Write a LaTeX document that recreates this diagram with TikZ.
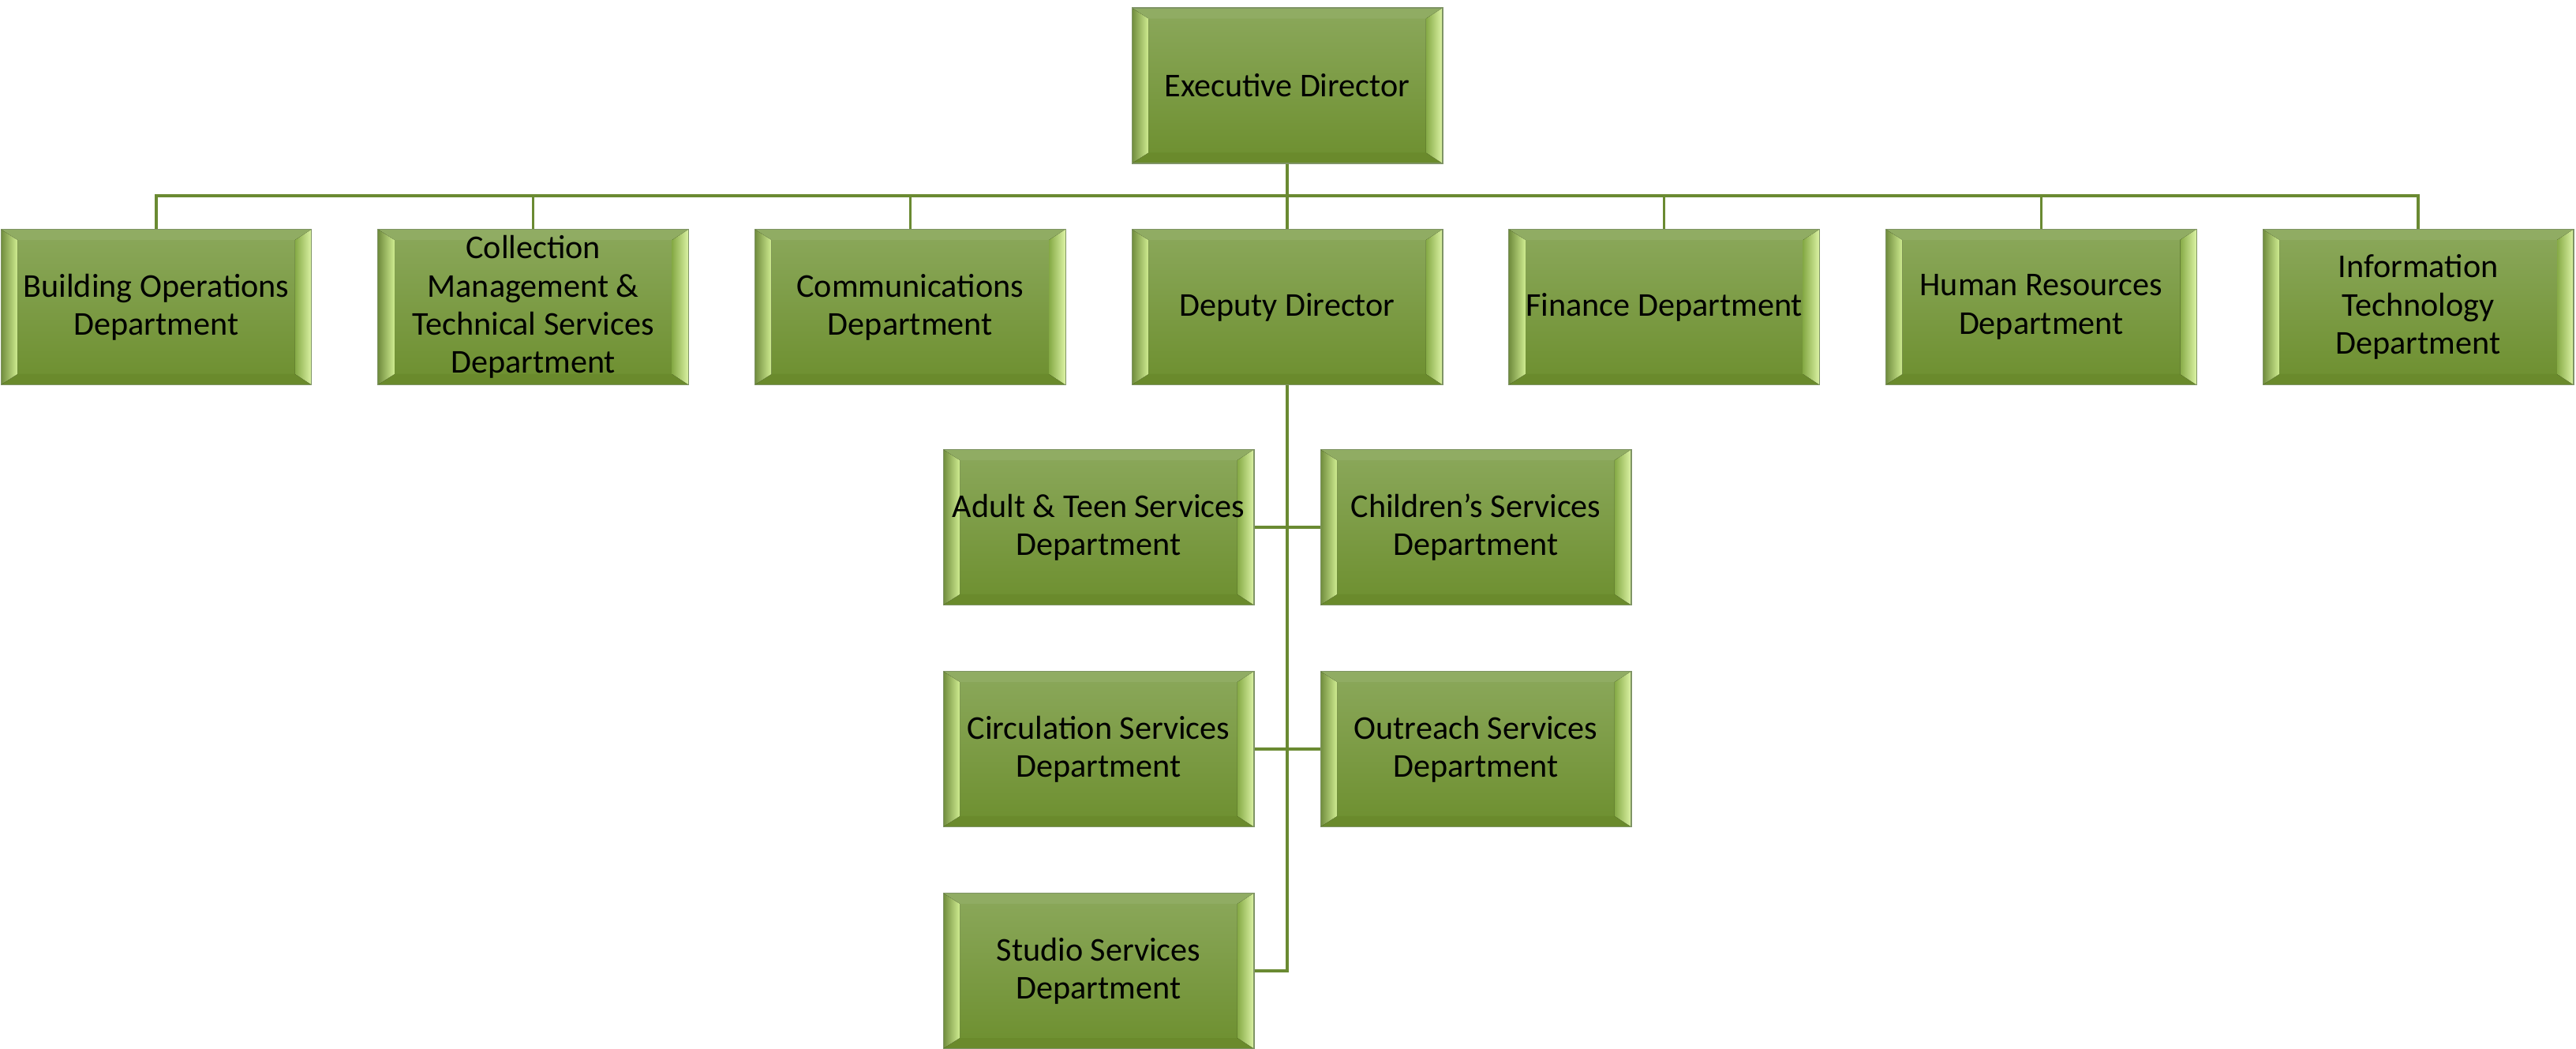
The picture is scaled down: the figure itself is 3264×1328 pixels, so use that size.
\documentclass[tikz,border=0pt]{standalone}
\usepackage{fontspec}
\setmainfont{Carlito}
\usepackage{tikz}

\definecolor{facetop}{HTML}{8BA85B}
\definecolor{facebot}{HTML}{6D8F2F}
\definecolor{boxrim}{HTML}{7F9465}
\definecolor{bevtop}{HTML}{90AC63}
\definecolor{bevbot}{HTML}{6A8A2C}
\definecolor{bevlout}{HTML}{6F8B3C}
\definecolor{bevlin}{HTML}{CFEC90}
\definecolor{bevrin}{HTML}{86AA46}
\definecolor{bevrout}{HTML}{DDF4A6}
\definecolor{linkgreen}{HTML}{6A8A32}

\newcommand{\deptfont}{\fontsize{24}{27.5}\selectfont}

\tikzset{
  dept/.style={draw=boxrim, line width=0.6pt, top color=facetop, bottom color=facebot,
    minimum width=7.88cm, minimum height=3.94cm, inner sep=0pt, align=center, font=\deptfont,
    path picture={
      \path (path picture bounding box.north west) coordinate (pnw)
            (path picture bounding box.north east) coordinate (pne)
            (path picture bounding box.south east) coordinate (pse)
            (path picture bounding box.south west) coordinate (psw);
      \fill[bevtop] (pnw) -- (pne) -- ([shift={(-0.42cm,-0.27cm)}]pne) -- ([shift={(0.42cm,-0.27cm)}]pnw) -- cycle;
      \fill[bevbot] (psw) -- (pse) -- ([shift={(-0.42cm,0.27cm)}]pse) -- ([shift={(0.42cm,0.27cm)}]psw) -- cycle;
      \fill[left color=bevlout, right color=bevlin] (pnw) -- ([shift={(0.42cm,-0.27cm)}]pnw) -- ([shift={(0.42cm,0.27cm)}]psw) -- (psw) -- cycle;
      \fill[left color=bevrin, right color=bevrout] (pne) -- ([shift={(-0.42cm,-0.27cm)}]pne) -- ([shift={(-0.42cm,0.27cm)}]pse) -- (pse) -- cycle;
    }},
  link/.style={draw=linkgreen, line width=2pt}
}

\begin{document}
\begin{tikzpicture}[x=0.02cm,y=-0.02cm]
\useasboundingbox (0,0) rectangle (3264,1328);

% top of the chart
\node[dept] (exec) at (1631,108.5) {Executive Director};
\coordinate (bus) at (1631,248);

% departments under the executive director
\node[dept] (bldops)   at (198,389)    {Building Operations\\Department};
\node[dept] (colmgmt)  at (675.7,389)  {Collection\\Management \&\\Technical Services\\Department};
\node[dept] (comms)    at (1153.3,389) {Communications\\Department};
\node[dept] (deputy)   at (1631,389)   {Deputy Director};
\node[dept] (finance)  at (2108.7,389) {Finance Department};
\node[dept] (hr)       at (2586.3,389) {Human Resources\\Department};
\node[dept] (infotech) at (3064,389)   {Information\\Technology\\Department};

% departments under the deputy director
\node[dept] (adult)    at (1392,668)  {Adult \& Teen Services\\Department};
\node[dept] (children) at (1870,668)  {Children’s Services\\Department};
\node[dept] (circ)     at (1392,949)  {Circulation Services\\Department};
\node[dept] (outreach) at (1870,949)  {Outreach Services\\Department};
\node[dept] (studio)   at (1392,1230) {Studio Services\\Department};

% connectors
\draw[link] (exec.south) -- (deputy.north);
\foreach \n in {bldops,colmgmt,comms,finance,hr,infotech}
  \draw[link] (\n.north) |- (bus);
\draw[link] (deputy.south) |- (studio.east);
\draw[link] (adult.east) -- (children.west);
\draw[link] (circ.east) -- (outreach.west);
\end{tikzpicture}
\end{document}
